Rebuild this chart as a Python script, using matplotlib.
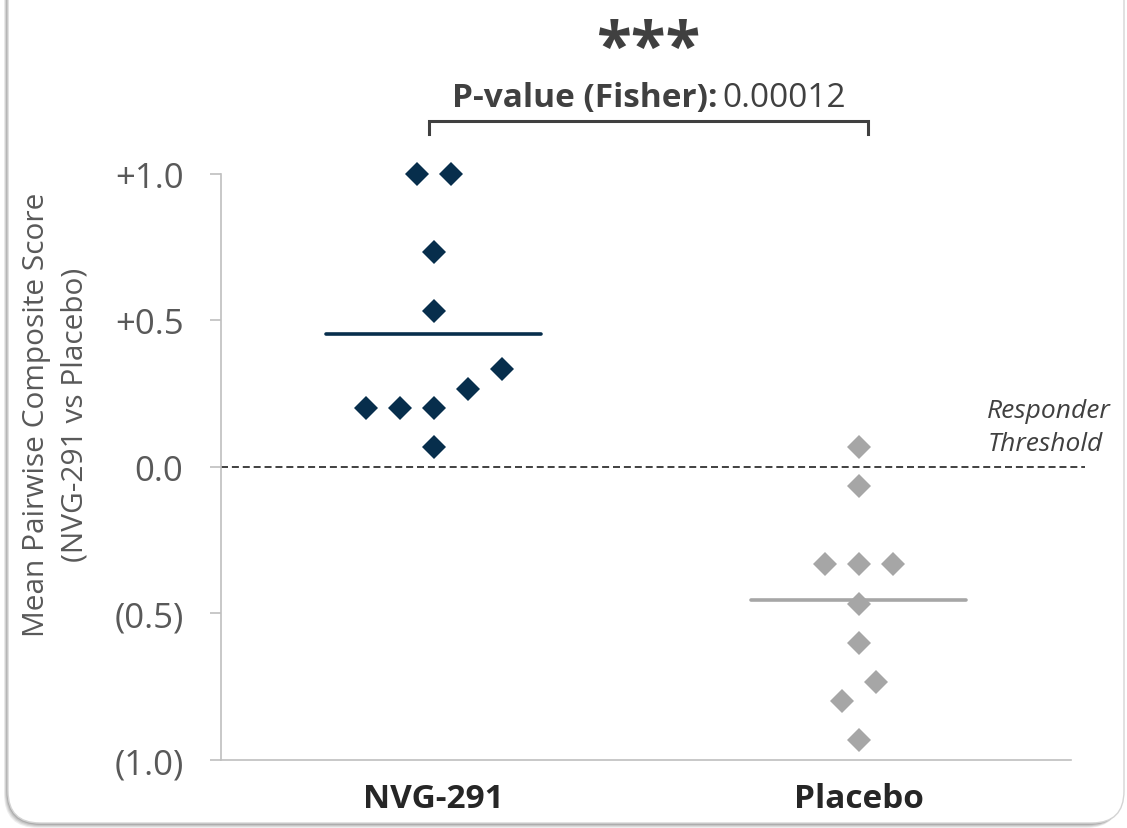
import numpy as np
import matplotlib.pyplot as plt
from matplotlib.patches import FancyBboxPatch
from matplotlib.transforms import IdentityTransform

plt.rcParams['font.family'] = ['Open Sans', 'DejaVu Sans']

# data
groups = ['NVG-291', 'Placebo']
nvg_scores = [1.0, 1.0, 0.733, 0.533, 0.333, 0.267, 0.2, 0.2, 0.2, 0.067]
nvg_offsets = [-0.04, 0.04, 0, 0, 0.16, 0.08, -0.16, -0.08, 0, 0]
placebo_scores = [0.067, -0.067, -0.333, -0.333, -0.333, -0.467, -0.6, -0.733, -0.8, -0.933]
placebo_offsets = [0, 0, -0.08, 0, 0.08, 0, 0, 0.04, -0.04, 0]
y_ticks = [-1.0, -0.5, 0.0, 0.5, 1.0]
y_tick_labels = ['(1.0)', '(0.5)', '0.0', '+0.5', '+1.0']
p_value = '0.00012'
threshold = 0.0

W, H = 1127, 829
navy = '#072E4C'
grey = '#A6A6A6'
axis_grey = '#BFBFBF'
text_dark = '#404040'
text_grey = '#595959'

fig = plt.figure(figsize=(W / 100, H / 100), dpi=100)

# rounded card with a soft shadow
for i, a in enumerate([0.10, 0.12, 0.15, 0.22]):
    d = 5 - i
    shadow = FancyBboxPatch((8 - d * 0.8, 5 - d), 1116, H + 60,
                            boxstyle='round,pad=0,rounding_size=34',
                            transform=IdentityTransform(), facecolor='#555555',
                            edgecolor='none', alpha=a, zorder=-3)
    fig.patches.append(shadow)
card = FancyBboxPatch((8, 5), 1116, H + 60, boxstyle='round,pad=0,rounding_size=32',
                      transform=IdentityTransform(), facecolor='white',
                      edgecolor='#D4D4D4', linewidth=1, zorder=-2)
fig.patches.append(card)

ax = fig.add_axes([221 / W, 1 - 761 / H, (1071 - 221) / W, (761 - 174.7) / H])
ax.patch.set_alpha(0)

series = [(nvg_scores, nvg_offsets, navy), (placebo_scores, placebo_offsets, grey)]
for i, (scores, offs, col) in enumerate(series):
    xs = [i + o for o in offs]
    ax.plot(xs, scores, linestyle='none', marker='D', markersize=12.5,
            markeredgewidth=0, color=col, zorder=3, clip_on=False)
    m = np.mean(scores)
    ax.plot([i - 0.252, i + 0.252], [m, m], color=col, lw=2.6,
            solid_capstyle='round', zorder=2)

# responder threshold
ax.plot([-0.5, 1.533], [threshold, threshold], color=text_dark, lw=1.4,
        linestyle=(0, (3.6, 2.0)), clip_on=False, zorder=1)
ax.text(1.303, 0.136, 'Responder\nThreshold', style='italic', fontsize=19,
        color=text_dark, ha='left', va='center', linespacing=1.4)

ax.set_xlim(-0.5, 1.5)
ax.set_ylim(-1.0, 1.0)
for s in ['top', 'right']:
    ax.spines[s].set_visible(False)
for s in ['left', 'bottom']:
    ax.spines[s].set_color(axis_grey)
    ax.spines[s].set_linewidth(1.2)

ax.set_yticks(y_ticks)
ax.set_yticklabels(y_tick_labels, fontsize=25, color=text_grey)
ax.tick_params(axis='y', direction='out', length=8, width=1.2, color=axis_grey, pad=19)
ax.set_xticks(range(len(groups)))
ax.set_xticklabels(groups, fontsize=24, fontweight='bold', color='#262626')
ax.tick_params(axis='x', length=0, pad=16)

fig.text(56 / W, 1 - 415 / H, 'Mean Pairwise Composite Score\n(NVG-291 vs Placebo)',
         rotation=90, ha='center', va='center', fontsize=21.5, color=text_grey,
         linespacing=1.45, multialignment='center')

# significance bracket
ax.plot([-0.011, -0.011, 1.023, 1.023], [1.135, 1.18, 1.18, 1.135], color=text_dark,
        lw=2.2, clip_on=False, solid_joinstyle='miter')
fig.text(717 / W, 1 - 107 / H, 'P-value (Fisher):', fontsize=24, fontweight='bold',
         color=text_dark, ha='right', va='baseline')
fig.text(722 / W, 1 - 107 / H, p_value, fontsize=24, color=text_dark,
         ha='left', va='baseline')
fig.text(648.5 / W, 1 - 68 / H, '***', fontsize=46, fontweight='bold',
         color=text_dark, ha='center', va='baseline')

fig.savefig('out.png', dpi=100)
